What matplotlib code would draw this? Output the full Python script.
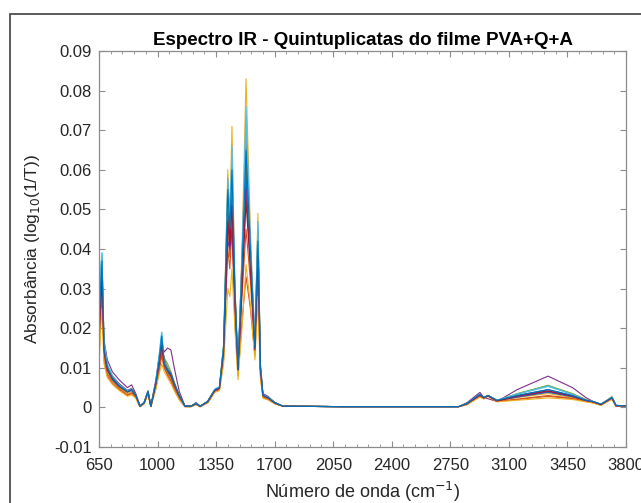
import matplotlib
matplotlib.use("Agg")
import matplotlib.pyplot as plt
from matplotlib.patches import Rectangle
from matplotlib.ticker import AutoMinorLocator
import numpy as np

plt.rcParams['font.family'] = ['Liberation Sans', 'DejaVu Sans']

# wavenumber grid (cm-1) shared by all spectra
wn = [650, 660, 668, 680, 700, 730, 770, 820, 845, 870,
      895, 920, 943, 960, 990, 1010, 1025, 1040, 1060, 1080,
      1100, 1130, 1164, 1200, 1230, 1255, 1300, 1343, 1370, 1395,
      1420, 1432, 1445, 1462, 1481, 1505, 1529, 1555, 1582, 1600,
      1615, 1630, 1660, 1700, 1750, 2100, 2500, 2800, 2850, 2927,
      2950, 2975, 3029, 3150, 3334, 3480, 3560, 3603, 3650, 3716,
      3740, 3800]

# absorbance values, in units of 1e-3
s01 = [20, 30, 36, 15, 10, 7.5, 5.5, 4, 4.5, 3,
       0.3, 1.2, 4, 0.3, 6, 12, 17, 11, 9.5, 8.5,
       6, 3, 0.3, 0.3, 1, 0.3, 1.5, 4.5, 5, 14,
       50, 42, 54, 29, 9.5, 33, 60, 38, 15, 40,
       10, 3, 2.5, 1.2, 0.3, 0.2, 0.2, 0.2, 1, 3.3,
       2.5, 3, 1.8, 3, 4.5, 3, 1.8, 1.5, 0.8, 2.5,
       0.5, 0.4]
s02 = [12, 22, 28, 12, 8, 6, 4.5, 3, 3.5, 2.5,
       0.2, 1, 3.5, 0.2, 5, 9, 13, 10, 8, 6.5,
       4.5, 2, 0.2, 0.2, 0.8, 0.2, 1.2, 4, 4.5, 12,
       40, 35, 45, 22, 8, 22, 33, 25, 13, 30,
       8, 2.5, 2, 1, 0.3, 0.2, 0.2, 0.2, 0.8, 2.8,
       2.2, 3, 1.5, 2, 2.8, 2.2, 1.5, 1.2, 0.6, 2.2,
       0.4, 0.4]
s03 = [18, 28, 34, 14, 9, 7, 5, 3.5, 4, 2.8,
       0.2, 1, 3.8, 0.2, 5.5, 11, 16, 10, 9, 7.5,
       5, 2.5, 0.2, 0.2, 0.9, 0.2, 1.3, 4.2, 5, 16,
       60, 48, 71, 32, 8, 40, 83, 45, 13, 49,
       10, 3, 2.3, 1, 0.3, 0.2, 0.2, 0.2, 0.8, 3,
       2.4, 3.1, 1.6, 2.5, 3.5, 2.5, 1.7, 1.3, 0.7, 2.8,
       0.4, 0.4]
s04 = [22, 32, 37, 17, 12, 9, 7, 5, 5.7, 3.5,
       0.4, 1.3, 4.2, 0.4, 7, 13, 16, 14, 15, 14.5,
       10, 4, 0.4, 0.3, 1.2, 0.3, 1.6, 4.5, 5, 14,
       48, 40, 52, 28, 10, 38, 68, 40, 16, 45,
       11, 3.5, 2.8, 1.3, 0.3, 0.2, 0.2, 0.2, 1.2, 3.8,
       2.5, 2.2, 1.5, 4.5, 7.9, 5, 2.5, 1.5, 0.8, 2.3,
       0.5, 0.4]
s05 = [19, 28, 33, 14, 9.5, 7, 5.2, 3.8, 4.5, 3,
       0.3, 1.1, 3.9, 0.3, 6, 11, 15, 12.5, 11, 9,
       6.5, 3, 0.3, 0.3, 1, 0.3, 1.4, 4.3, 4.8, 14,
       50, 42, 55, 29, 9, 33, 60, 38, 14, 40,
       9.5, 3, 2.4, 1.1, 0.3, 0.2, 0.2, 0.2, 0.9, 3.2,
       2.4, 3, 1.7, 3.5, 5.5, 3.5, 2, 1.4, 0.7, 2.4,
       0.4, 0.4]
s06 = [24, 34, 39, 16, 10.5, 7.8, 5.6, 4.1, 4.6, 3,
       0.3, 1.2, 4.1, 0.3, 6.2, 13, 19, 11, 9.5, 8,
       5.8, 2.8, 0.3, 0.3, 1, 0.3, 1.5, 4.6, 5.2, 16,
       58, 47, 66, 31, 11, 38, 76, 42, 18, 47,
       10.5, 3.2, 2.6, 1.2, 0.3, 0.2, 0.2, 0.2, 1, 3.2,
       2.5, 3, 1.8, 3.3, 5.3, 3.3, 1.9, 1.5, 0.8, 2.6,
       0.5, 0.4]
s07 = [21, 30, 35, 15.5, 10.5, 8, 6, 4.3, 4.8, 3.2,
       0.3, 1.2, 4, 0.3, 6.3, 12.5, 17, 12, 10, 8.5,
       6, 3, 0.3, 0.3, 1, 0.3, 1.5, 4.4, 5, 14.5,
       52, 43, 56, 30, 10, 34, 63, 39, 15, 43,
       10, 3.2, 2.6, 1.2, 0.3, 0.2, 0.2, 0.2, 1, 3.2,
       2.5, 3, 1.7, 2.8, 4, 2.8, 1.7, 1.4, 0.7, 2.4,
       0.4, 0.4]
s08 = [17, 27, 33, 14, 9.5, 7, 5.3, 3.9, 4.3, 2.9,
       0.3, 1.1, 3.9, 0.3, 5.8, 11.5, 16, 10.5, 9, 7.8,
       5.5, 2.7, 0.3, 0.3, 0.9, 0.3, 1.4, 4.4, 4.9, 15,
       53, 45, 50, 27, 9, 32, 58, 37, 14, 39,
       9.5, 3, 2.4, 1.1, 0.3, 0.2, 0.2, 0.2, 1, 3.1,
       2.4, 2.9, 1.7, 2.6, 3.8, 2.7, 1.7, 1.4, 0.7, 2.5,
       0.4, 0.4]
s09 = [14, 24, 30, 13, 8.5, 6.5, 4.8, 3.2, 3.7, 2.6,
       0.2, 1, 3.6, 0.2, 5.2, 10, 14, 10, 8.5, 7,
       5, 2.3, 0.2, 0.2, 0.8, 0.2, 1.2, 4.1, 4.6, 13,
       45, 38, 48, 25, 8.5, 28, 45, 32, 13.5, 34,
       8.5, 2.7, 2.2, 1, 0.3, 0.2, 0.2, 0.2, 0.7, 2.9,
       2.3, 3, 1.5, 2.1, 3, 2.3, 1.6, 1.2, 0.6, 2.2,
       0.4, 0.4]
s10 = [10, 20, 25, 11, 7.5, 5.8, 4.3, 2.8, 3.2, 2.3,
       0.2, 0.9, 3.3, 0.2, 4.5, 8.5, 11, 9, 7.5, 6,
       4.2, 1.9, 0.2, 0.2, 0.7, 0.2, 1.1, 3.8, 4.2, 11,
       30, 28, 35, 20, 7, 20, 36, 26, 12, 28,
       7.5, 2.3, 1.9, 0.9, 0.3, 0.2, 0.2, 0.2, 0.7, 2.6,
       2.1, 2.8, 1.4, 1.8, 2.4, 2, 1.4, 1.1, 0.5, 2,
       0.3, 0.3]
s11 = [20, 29, 35, 15, 10, 7.5, 5.6, 4.1, 4.6, 3.1,
       0.3, 1.2, 4, 0.3, 6.1, 12, 17, 11.5, 10, 8.5,
       6, 2.9, 0.3, 0.3, 1, 0.3, 1.5, 4.5, 5, 15,
       42, 40, 45, 27, 9.5, 30, 55, 36, 15, 41,
       9.8, 3.1, 2.5, 1.2, 0.3, 0.2, 0.2, 0.2, 1, 3.1,
       2.4, 2.9, 1.7, 2.7, 4, 2.8, 1.7, 1.4, 0.7, 2.4,
       0.4, 0.4]
s12 = [23, 33, 38, 16, 10.5, 7.6, 5.5, 4, 4.4, 3,
       0.3, 1.2, 4.1, 0.3, 6, 12, 17.5, 11.5, 10, 8.5,
       6, 2.9, 0.3, 0.3, 1, 0.3, 1.5, 4.5, 5.1, 15.5,
       56, 46, 58, 30, 10, 36, 66, 40, 16, 44,
       10.2, 3.1, 2.5, 1.2, 0.3, 0.2, 0.2, 0.2, 1, 3.2,
       2.5, 3, 1.8, 3.4, 5.6, 3.4, 2, 1.5, 0.8, 2.5,
       0.5, 0.4]
s13 = [25, 35, 39, 16.5, 11, 8, 5.8, 4.2, 4.7, 3.1,
       0.3, 1.2, 4.2, 0.3, 6.4, 13.5, 19, 11.5, 9.8, 8.2,
       5.9, 2.8, 0.3, 0.3, 1, 0.3, 1.5, 4.6, 5.2, 15.5,
       57, 46, 63, 31, 10.5, 37, 72, 41, 17, 46,
       10.4, 3.2, 2.6, 1.2, 0.3, 0.2, 0.2, 0.2, 1, 3.3,
       2.5, 3, 1.8, 3.4, 5.4, 3.3, 1.9, 1.5, 0.8, 2.6,
       0.5, 0.4]
s14 = [16, 26, 32, 14, 9.5, 7.3, 5.4, 3.9, 4.4, 3,
       0.3, 1.1, 3.9, 0.3, 5.9, 11, 15.5, 11, 9.5, 8,
       5.7, 2.8, 0.3, 0.3, 0.9, 0.3, 1.4, 4.3, 4.8, 14,
       47, 41, 51, 28, 9.5, 31, 52, 35, 14.5, 38,
       9.5, 3, 2.4, 1.1, 0.3, 0.2, 0.2, 0.2, 0.9, 3.1,
       2.4, 2.9, 1.6, 2.9, 4.2, 2.9, 1.8, 1.4, 0.7, 2.4,
       0.4, 0.4]
s15 = [21, 31, 37, 15, 10, 7.5, 5.5, 4, 4.5, 3,
       0.3, 1.2, 4, 0.3, 6, 12, 18, 11, 9.5, 8.5,
       6, 3, 0.3, 0.3, 1, 0.3, 1.5, 4.5, 5, 15,
       55, 45, 60, 30, 9.5, 35, 65, 40, 15, 42,
       10, 3, 2.5, 1.2, 0.3, 0.2, 0.2, 0.2, 1, 3.3,
       2.5, 3, 1.8, 3, 4.5, 3, 1.8, 1.5, 0.8, 2.5,
       0.5, 0.4]

spectra = [s01, s02, s03, s04, s05, s06, s07, s08, s09, s10,
           s11, s12, s13, s14, s15]

# MATLAB default colour order
colors = ['#0072BD', '#D95319', '#EDB120', '#7E2F8E',
          '#77AC30', '#4DBEEE', '#A2142F']

xticks = [650, 1000, 1350, 1700, 2050, 2400, 2750, 3100, 3450, 3800]
yticks = [-0.01, 0, 0.01, 0.02, 0.03, 0.04, 0.05, 0.06, 0.07, 0.08, 0.09]
ylabels = ['-0.01', '0', '0.01', '0.02', '0.03', '0.04',
           '0.05', '0.06', '0.07', '0.08', '0.09']

fig = plt.figure(figsize=(6.41, 5.03), dpi=100)
ax = fig.add_axes([0.1544, 0.1113, 0.8222, 0.7873])

x = np.array(wn)
for i, s in enumerate(spectra):
    ax.plot(x, np.array(s) / 1000.0, color=colors[i % len(colors)], lw=0.8)

ax.set_xlim(650, 3800)
ax.set_ylim(-0.01, 0.09)
ax.set_xticks(xticks)
ax.xaxis.set_minor_locator(AutoMinorLocator(5))
ax.set_yticks(yticks)
ax.set_yticklabels(ylabels)

spine_col = '#8c8c8c'
for sp in ax.spines.values():
    sp.set_color(spine_col)
    sp.set_linewidth(0.9)
ax.tick_params(which='both', direction='in', top=True, right=True,
               color=spine_col, labelcolor='#262626', labelsize=12)
ax.tick_params(which='major', length=4)
ax.tick_params(which='minor', length=2.5)
ax.tick_params(axis='y', which='minor', left=False, right=False)
ax.tick_params(axis='y', pad=5)
ax.tick_params(axis='x', pad=8)

ax.set_xlabel('Número de onda (cm$^{-1}$)', fontsize=13, color='#262626',
              labelpad=5)
ax.set_ylabel('Absorbância (log$_{10}$(1/T))', fontsize=12.5, color='#262626',
              labelpad=9)
ax.set_title('Espectro IR - Quintuplicatas do filme PVA+Q+A',
             fontsize=13.5, fontweight='bold', pad=4)

# outer frame of the exported figure
fig.patches.append(Rectangle((0.0156, -0.05), 1.1, 0.05 + 0.9722,
                             transform=fig.transFigure, fill=False,
                             edgecolor='#404040', lw=1.2))

fig.savefig('out.png', dpi=100)
